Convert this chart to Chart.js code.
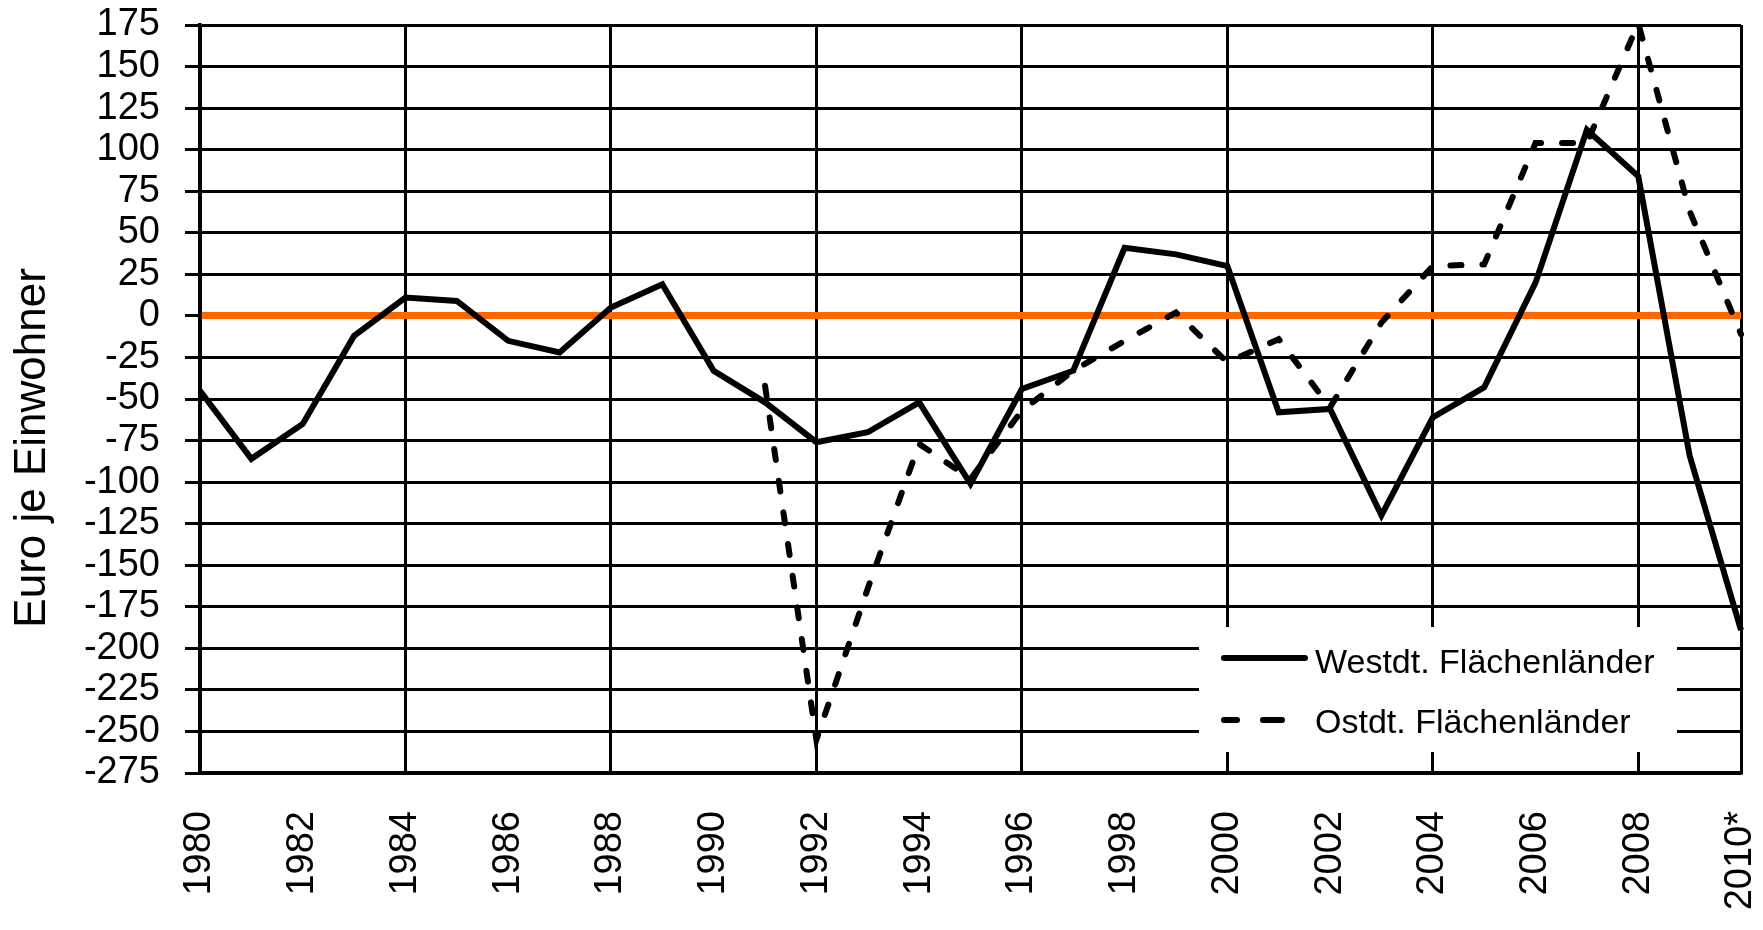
<!DOCTYPE html>
<html>
<head>
<meta charset="utf-8">
<script src="https://cdn.jsdelivr.net/npm/chart.js@4.4.0/dist/chart.umd.min.js"></script>
<style>
    html, body { margin: 0; padding: 0; background: #fff; }
    #wrap { width: 1763px; height: 930px; }
</style>
</head>
<body>
<div id="wrap"><canvas id="chart"></canvas></div>
<script>
// Daten
const years = ['1980', '1981', '1982', '1983', '1984', '1985', '1986', '1987', '1988', '1989',
    '1990', '1991', '1992', '1993', '1994', '1995', '1996', '1997', '1998', '1999',
    '2000', '2001', '2002', '2003', '2004', '2005', '2006', '2007', '2008', '2009', '2010*'];

const west = [-45, -86, -65, -12, 11, 9, -15, -22, 5, 19,
    -33, -52, -76, -70, -52, -101, -44, -33, 41, 37,
    30, -58, -56, -120, -61, -43, 20, 112, 84, -84, -189];

const ost = [null, null, null, null, null, null, null, null, null, null,
    null, -42, -255, -164, -77, -98, -57, -33, -15, 2,
    -28, -14, -55, -4, 30, 31, 104, 104, 176, 63, -11];

const seriesNames = ['Westdt. Flächenländer', 'Ostdt. Flächenländer'];
const yMin = -275;
const yMax = 175;
const yStep = 25;
const axisTitle = 'Euro je Einwohner';

const FONT = "'Liberation Sans', Arial, sans-serif";

// Legende im Diagramm (weisser Kasten)
const legendBox = {
    id: 'legendBox',
    beforeDatasetsDraw(chart) {
        const ctx = chart.ctx;
        const a = chart.chartArea;
        const left = a.left + 999, right = a.right - 64;
        const top = a.bottom - 146, bottom = a.bottom - 21;
        ctx.save();
        ctx.fillStyle = '#fff';
        ctx.fillRect(left, top, right - left, bottom - top);

        ctx.strokeStyle = '#000';
        ctx.lineWidth = 6;
        ctx.lineCap = 'round';
        // Westdt.
        ctx.beginPath();
        ctx.moveTo(left + 25, top + 31);
        ctx.lineTo(left + 106, top + 31);
        ctx.stroke();
        // Ostdt.
        ctx.beginPath();
        ctx.moveTo(left + 25, top + 93);
        ctx.lineTo(left + 38, top + 93);
        ctx.moveTo(left + 64, top + 93);
        ctx.lineTo(left + 83, top + 93);
        ctx.stroke();

        ctx.fillStyle = '#000';
        ctx.font = '34px ' + FONT;
        ctx.textBaseline = 'alphabetic';
        ctx.textAlign = 'left';
        ctx.fillText(seriesNames[0], left + 116, top + 46);
        ctx.fillText(seriesNames[1], left + 116, top + 106);
        ctx.restore();
    }
};

new Chart(document.getElementById('chart'), {
    type: 'line',
    data: {
        labels: years,
        datasets: [{
            label: seriesNames[0],
            data: west,
            borderColor: '#000',
            borderWidth: 6,
            pointRadius: 0,
            tension: 0
        }, {
            label: seriesNames[1],
            data: ost,
            borderColor: '#000',
            borderWidth: 6,
            borderDash: [11, 21],
            borderCapStyle: 'round',
            pointRadius: 0,
            tension: 0
        }]
    },
    options: {
        responsive: true,
        maintainAspectRatio: false,
        animation: false,
        layout: {
            padding: { left: 6, top: 25, right: 22, bottom: 0 }
        },
        plugins: {
            legend: { display: false },
            tooltip: { enabled: false }
        },
        scales: {
            x: {
                // feste Höhe, keine Zusatzränder für die gedrehten Labels
                afterFit(scale) {
                    scale.height = 157;
                    scale.paddingLeft = 0;
                    scale.paddingRight = 0;
                },
                grid: {
                    drawTicks: false,
                    lineWidth: 3,
                    color: ctx => (ctx.index % 4 === 0 || ctx.index === years.length - 1) ? '#000' : 'rgba(0,0,0,0)'
                },
                border: { display: true, color: '#000', width: 3.5 },
                ticks: {
                    autoSkip: false,
                    maxRotation: 90,
                    minRotation: 90,
                    padding: 38,
                    color: '#000',
                    font: { family: FONT, size: 38 },
                    callback: function(value, index) {
                        return index % 2 === 0 ? years[index] : '';
                    }
                }
            },
            y: {
                min: yMin,
                max: yMax,
                afterFit(scale) {
                    scale.width = 194;
                    scale.paddingTop = 0;
                    scale.paddingBottom = 0;
                },
                grid: {
                    tickLength: 15,
                    tickWidth: 3,
                    tickColor: '#000',
                    lineWidth: ctx => ctx.tick && ctx.tick.value === 0 ? 7 : 3,
                    color: ctx => ctx.tick && ctx.tick.value === 0 ? '#ff6600' : '#000'
                },
                border: { display: true, color: '#000', width: 3.5 },
                ticks: {
                    stepSize: yStep,
                    autoSkip: false,
                    padding: 25,
                    color: '#000',
                    font: { family: FONT, size: 38 }
                },
                title: {
                    display: true,
                    // Leerzeichen am Ende schieben den Titel etwas nach unten wie im Original
                    text: axisTitle + '        ',
                    color: '#000',
                    padding: 0,
                    font: { family: FONT, size: 44 }
                }
            }
        }
    },
    plugins: [legendBox]
});
</script>
</body>
</html>
